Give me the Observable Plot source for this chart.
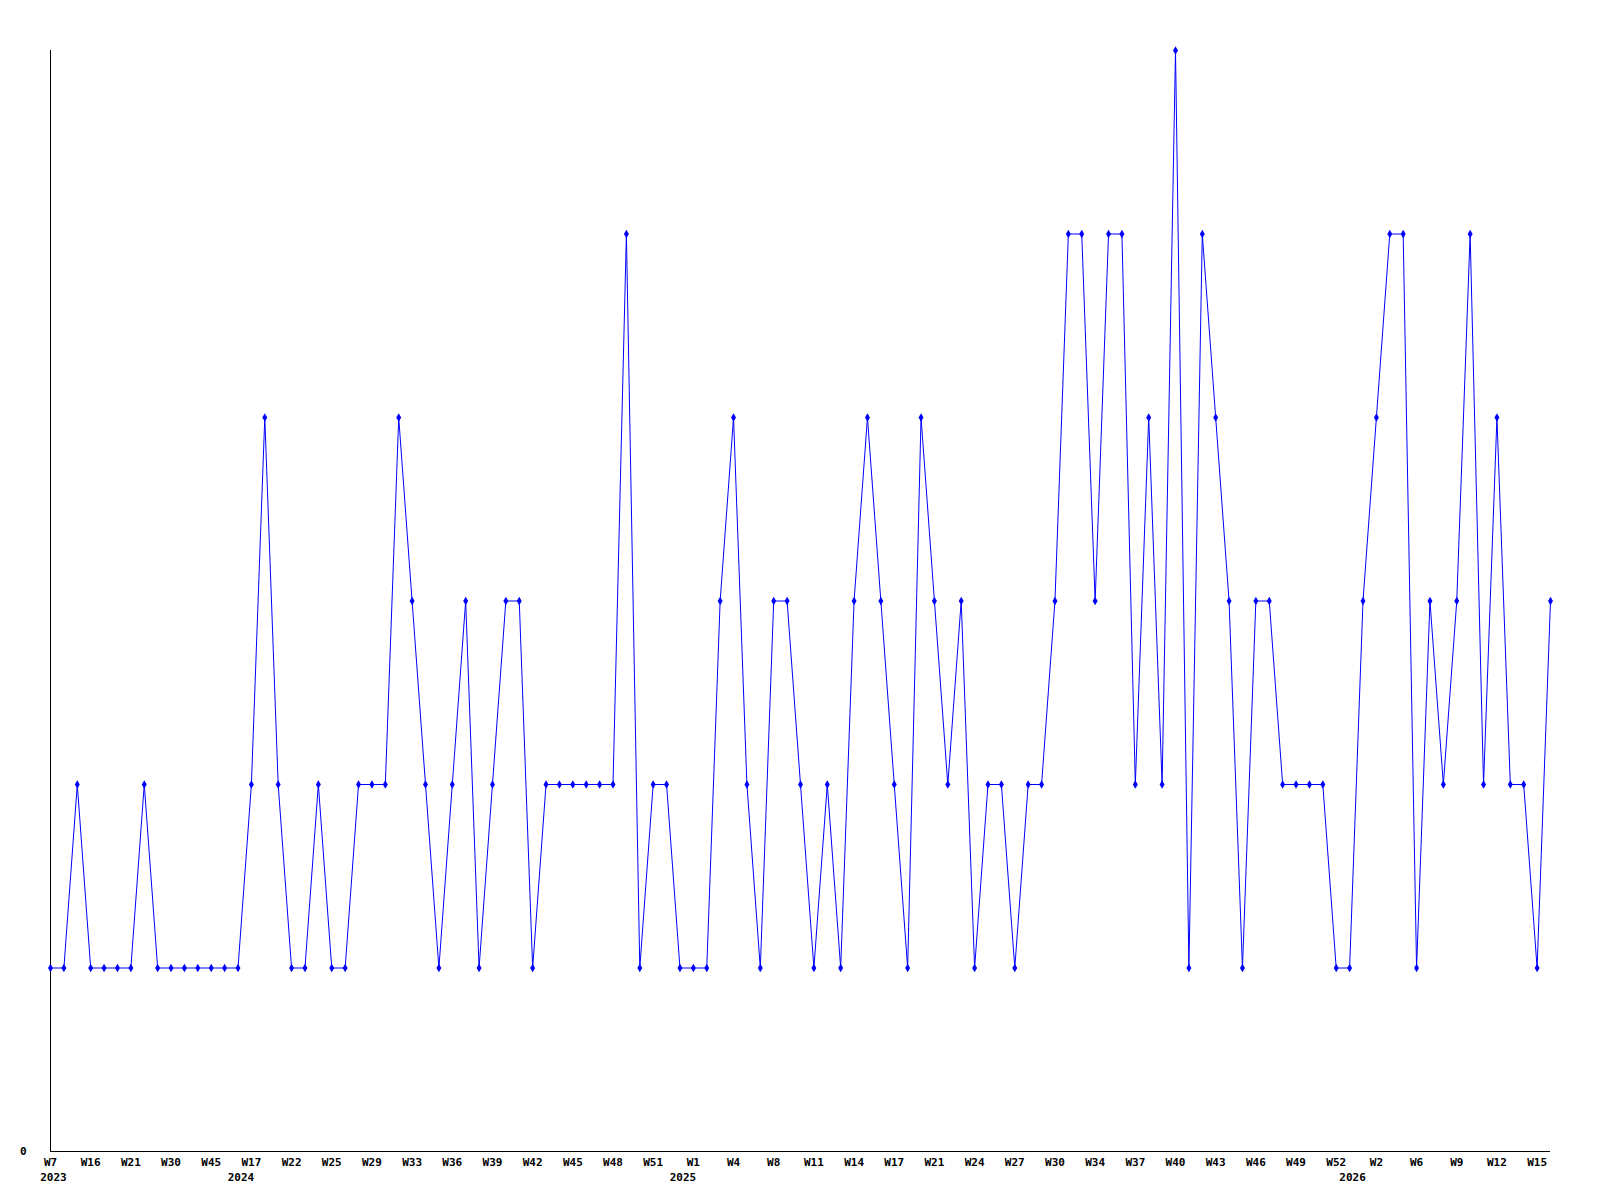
<!DOCTYPE html>
<html>
<head>
<meta charset="utf-8">
<script src="https://cdn.jsdelivr.net/npm/d3@7"></script>
<script src="https://cdn.jsdelivr.net/npm/@observablehq/plot@0.6"></script>
<style>
  html, body { margin: 0; padding: 0; background: #ffffff; }
  #chart svg { display: block; }
</style>
</head>
<body>
<div id="chart"></div>
<script>
// Weekly counts (one entry per reported week, in order)
const counts = [
  1, 1, 2, 1, 1, 1, 1, 2, 1, 1,
  1, 1, 1, 1, 1, 2, 4, 2, 1, 1,
  2, 1, 1, 2, 2, 2, 4, 3, 2, 1,
  2, 3, 1, 2, 3, 3, 1, 2, 2, 2,
  2, 2, 2, 5, 1, 2, 2, 1, 1, 1,
  3, 4, 2, 1, 3, 3, 2, 1, 2, 1,
  3, 4, 3, 2, 1, 4, 3, 2, 3, 1,
  2, 2, 1, 2, 2, 3, 5, 5, 3, 5,
  5, 2, 4, 2, 6, 1, 5, 4, 3, 1,
  3, 3, 2, 2, 2, 2, 1, 1, 3, 4,
  5, 5, 1, 3, 2, 3, 5, 2, 4, 2,
  2, 1, 3
];

// Tick labels, shown on every third week
const weekTickLabels = [
  "W7", "W16", "W21", "W30", "W45",
  "W17", "W22", "W25", "W29", "W33", "W36", "W39", "W42", "W45", "W48", "W51",
  "W1", "W4", "W8", "W11", "W14", "W17", "W21", "W24", "W27", "W30", "W34", "W37", "W40", "W43", "W46", "W49", "W52",
  "W2", "W6", "W9", "W12", "W15"
];
const tickEvery = 3;

// Year labels and the week index where each year starts
const years = ["2023", "2024", "2025", "2026"];
const yearStartIndex = [0, 14, 47, 97];

const data = counts.map((v, i) => ({i, v}));
const yearData = years.map((y, k) => ({year: y, i: yearStartIndex[k]}));
const tickIdx = weekTickLabels.map((_, k) => k * tickEvery);

const font = "'DejaVu Sans Mono', 'Liberation Mono', monospace";

const chart = Plot.plot({
  width: 1600,
  height: 1200,
  marginLeft: 50,
  marginRight: 50,
  marginTop: 50,
  marginBottom: 49,
  style: {fontFamily: font, fontSize: "11px", fontWeight: "bold", color: "#000", background: "#fff"},
  x: {type: "point", domain: d3.range(counts.length), padding: 0},
  y: {domain: [0, 6]},
  marks: [
    Plot.axisX({
      ticks: tickIdx,
      tickSize: 0,
      tickPadding: 7,
      tickFormat: i => weekTickLabels[i / tickEvery],
      fontSize: 11, fontWeight: "bold", fontFamily: font, fill: "#000",
      label: null
    }),
    Plot.axisY({
      ticks: [0],
      tickSize: 0,
      tickPadding: 24,
      tickFormat: d => String(d),
      fontSize: 11, fontWeight: "bold", fontFamily: font, fill: "#000",
      label: null
    }),
    Plot.text(yearData, {
      x: "i", text: "year", frameAnchor: "bottom", lineAnchor: "middle", dy: 26, dx: 3,
      fontSize: 11, fontWeight: "bold", fontFamily: font, fill: "#000"
    }),
    Plot.ruleY([0], {stroke: "#000", strokeWidth: 1}),
    Plot.ruleX([0], {stroke: "#000", strokeWidth: 1}),
    Plot.lineY(data, {x: "i", y: "v", stroke: "#0000ff", strokeWidth: 1}),
    Plot.dot(data, {x: "i", y: "v", symbol: "diamond", r: 2.6, fill: "#0000ff", stroke: "none"})
  ]
});
document.getElementById("chart").appendChild(chart);
</script>
</body>
</html>
